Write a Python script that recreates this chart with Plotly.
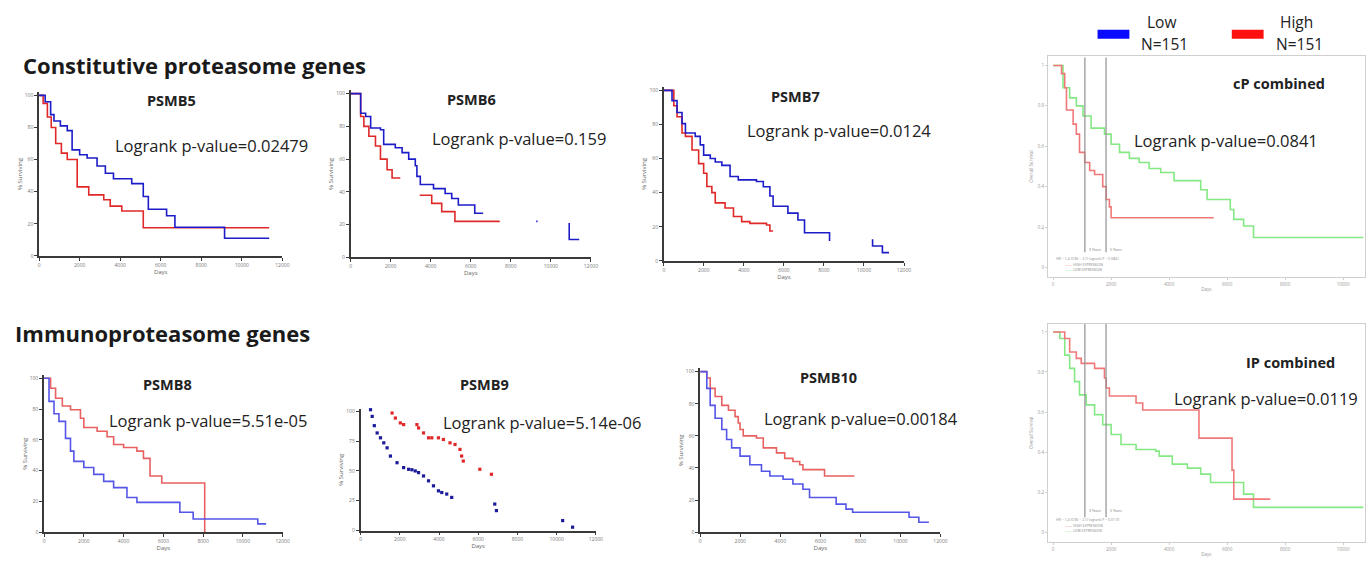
import plotly.graph_objects as go

W, H = 1372, 564

# ---------------- DATA (days, % surviving) ----------------
psmb5_low_days = [0, 300, 570, 735, 1050, 1390, 1630, 2000, 2370, 2860, 3270, 3670, 4570, 5140, 5390, 6290, 6700, 9150, 11350]
psmb5_low_surv = [100, 96, 88, 84, 81, 78, 66, 63, 61, 56, 51.5, 48, 45, 37, 29, 25, 17.8, 11, 11]
psmb5_high_days = [0, 200, 410, 600, 820, 1100, 1390, 1880, 2450, 3190, 3510, 4080, 5140, 11350]
psmb5_high_surv = [100, 95, 86.5, 80, 70, 64, 60, 43, 38, 35, 31, 28, 17.5, 17.5]

psmb6_low_days = [0, 250, 500, 750, 1000, 1490, 1650, 2230, 2570, 2900, 3230, 3310, 3480, 4140, 4720, 5050, 5380, 6200, 6620, None, 9270, 9340, None, 10920, 10920, 11420]
psmb6_low_surv = [100, 100, 88, 86, 79, 78, 69, 67, 64, 60, 56, 49.5, 44.5, 42, 39, 36, 32, 27, 27, None, 22, 22, None, 21, 11, 11]
psmb6_high_days = [0, 250, 500, 660, 910, 1240, 1490, 1820, 2070, 2480, None, 3450, 4050, 4550, 5210, 7450]
psmb6_high_surv = [100, 100, 86, 80, 74, 68, 60, 53.5, 48.5, 48.5, None, 38, 33, 28, 22, 22]

psmb7_low_days = [0, 410, 660, 910, 1080, 1570, 1820, 1990, 2320, 2570, 2900, 3310, 3720, 4630, 4970, 5300, 5460, 6200, 6700, 7030, 8280, None, 10430, 10430, 10920, 10920, 11250]
psmb7_low_surv = [100, 94, 87, 80.5, 75, 73, 68, 62, 60, 58, 56, 49.5, 47.5, 46.5, 43.5, 38, 32, 28, 24, 16.5, 11.6, None, 12.6, 8.7, 8.7, 4.8, 4.8]
psmb7_high_days = [0, 500, 660, 910, 1080, 1410, 1740, 1990, 2150, 2400, 2570, 3060, 3480, 3890, 4300, 5130, 5300, 5460]
psmb7_high_surv = [100, 91, 84.5, 75, 73, 65, 57, 51.4, 43.6, 40, 34, 31, 26, 23, 22, 21, 17.5, 17.5]

psmb8_low_days = [0, 170, 250, 500, 750, 1080, 1330, 1500, 2000, 2500, 3000, 3500, 4170, 4670, 6830, 7500, 10750, 11170]
psmb8_low_surv = [100, 100, 85, 77, 72, 61, 52.7, 46, 42, 37.6, 33, 29, 22.6, 19.4, 13, 8.6, 5.4, 5.4]
psmb8_high_days = [0, 170, 330, 580, 920, 1330, 1830, 2000, 2670, 3170, 3500, 4000, 4670, 5000, 5330, 5920, 8080, 8080]
psmb8_high_surv = [100, 100, 93.5, 87, 82, 79.6, 74, 68, 65.6, 62, 57, 55, 52.7, 48, 36.5, 32, 32, 0]

psmb9_low_days = [507, 592, 700, 845, 1014, 1183, 1352, 1521, 1859, 2197, 2451, 2620, 2789, 2958, 3211, 3465, 3718, 3972, 4141, 4394, 4648, 6845, 6930, 10309, 10816]
psmb9_low_surv = [101.4, 95.8, 88, 81.9, 77.8, 73.6, 69.4, 62.5, 56.9, 52.8, 51.4, 51, 50, 48.6, 45.8, 41.7, 37.5, 33.3, 31.9, 30.6, 27.8, 22.2, 16.7, 8.3, 2.8]
psmb9_high_days = [1014, 1268, 1437, 1606, 1775, 2028, 2197, 2873, 2958, 3211, 3465, 3634, 3972, 4225, 4563, 4817, 5070, 5155, 5239, 6084, 6676]
psmb9_high_surv = [108.3, 104.2, 102.8, 98.6, 94.4, 90.3, 88.9, 88.9, 86.1, 81.9, 77.8, 77.8, 77.8, 76.4, 73.6, 72.2, 68.1, 62.5, 58.3, 51.4, 47.2]

psmb10_low_days = [0, 200, 330, 500, 745, 1080, 1320, 1570, 1990, 2480, 3060, 3480, 4140, 4630, 5130, 5460, 6790, 7280, 7610, 10430, 10920, 11420]
psmb10_low_surv = [100, 100, 89.6, 79, 71, 64, 57.7, 52.5, 47.4, 42, 38, 35, 33, 30, 26.8, 21.6, 17.5, 14.4, 12.4, 9.3, 6.2, 6.2]
psmb10_high_days = [0, 200, 330, 500, 745, 1080, 1410, 1740, 1900, 1990, 2150, 2810, 3150, 3810, 4220, 4630, 4970, 5130, 6210, 7700]
psmb10_high_surv = [100, 100, 96, 89.6, 84.5, 79, 76, 72, 68, 64, 60, 58.7, 52.5, 49.4, 46, 44, 42, 39, 35, 35]

# combined (fraction surviving)
cp_high_days = [0, 230, 290, 400, 460, 690, 800, 910, 1090, 1260, 1430, 1710, 1830, 1940, 2000, 5540]
cp_high_surv = [1, 1, 0.96, 0.89, 0.78, 0.71, 0.66, 0.57, 0.52, 0.48, 0.46, 0.40, 0.336, 0.30, 0.246, 0.246]
cp_low_days = [0, 170, 340, 570, 800, 1030, 1310, 1770, 2000, 2290, 2630, 2970, 3310, 3710, 4170, 5090, 5310, 6110, 6230, 6570, 6910, 10700]
cp_low_surv = [1, 1, 0.89, 0.84, 0.80, 0.75, 0.69, 0.66, 0.61, 0.57, 0.54, 0.52, 0.49, 0.47, 0.43, 0.385, 0.336, 0.287, 0.238, 0.205, 0.148, 0.148]

ip_high_days = [0, 230, 400, 570, 800, 970, 1430, 1770, 1830, 1940, 2860, 3090, 5030, 6170, 6230, 7490]
ip_high_surv = [1, 1, 0.967, 0.90, 0.868, 0.843, 0.818, 0.77, 0.72, 0.68, 0.645, 0.61, 0.47, 0.31, 0.165, 0.165]
ip_low_days = [0, 170, 230, 400, 570, 740, 910, 1140, 1430, 1710, 2000, 2340, 2860, 3540, 3660, 4110, 4630, 5090, 5430, 6570, 6910, 10700]
ip_low_surv = [1, 1, 0.967, 0.884, 0.818, 0.752, 0.686, 0.636, 0.587, 0.537, 0.488, 0.438, 0.413, 0.405, 0.38, 0.34, 0.32, 0.29, 0.248, 0.19, 0.124, 0.124]

panel_titles = ["PSMB5", "PSMB6", "PSMB7", "PSMB8", "PSMB9", "PSMB10", "cP combined", "IP combined"]
pvalues = ["0.02479", "0.159", "0.0124", "5.51e-05", "5.14e-06", "0.00184", "0.0841", "0.0119"]
group_labels = ["Low", "High"]
group_n = [151, 151]
year_marks = [3, 5]
gp_xticks = [0, 2000, 4000, 6000, 8000, 10000, 12000]
comb_xticks = [0, 2000, 4000, 6000, 8000, 10000]
comb_yticks = [0, 0.2, 0.4, 0.6, 0.8, 1]

# ---------------- FIGURE ----------------
fig = go.Figure()
layout_axes = {}
annotations = []
shapes = []

FONT = "Open Sans"
BLUE_D = "#1c1cc8"
RED_D = "#e02828"
BLUE_L = "#5555e8"
RED_L = "#e86060"
RED_C = "#f07878"
GREEN_C = "#84e884"


def px2fx(px):
    return px / W


def py2fy(py):
    return 1 - py / H


def ann(text, x, y, size, bold=False, xanchor="center", color="#222", textangle=0, family=FONT):
    annotations.append(dict(
        text=f"<b>{text}</b>" if bold else text, x=px2fx(x), y=py2fy(y),
        xref="paper", yref="paper", xanchor=xanchor, yanchor="middle",
        showarrow=False, textangle=textangle,
        font=dict(family=family, size=size, color=color)))


def gp_panel(i, x0, x12k, y100, y0, yticks, ymax=102):
    ppp = (y0 - y100) / 100.0
    left, right = x0, x12k
    bottom, top = y0, y0 - ymax * ppp
    sfx = "" if i == 1 else str(i)
    common = dict(showline=True, linecolor="#3a3a3a", linewidth=1.6, ticks="outside",
                  ticklen=3, tickwidth=1.2, tickcolor="#3a3a3a", showgrid=False,
                  zeroline=False, tickfont=dict(size=5, color="#777", family=FONT))
    layout_axes["xaxis" + sfx] = dict(domain=[px2fx(left), px2fx(right)], range=[0, 12000],
                                      tickvals=gp_xticks, ticktext=[str(v) for v in gp_xticks],
                                      anchor="y" + sfx,
                                      title=dict(text="Days", font=dict(size=6, color="#666"), standoff=1),
                                      **common)
    layout_axes["yaxis" + sfx] = dict(domain=[py2fy(bottom), py2fy(top)], range=[0, ymax],
                                      tickvals=yticks, ticktext=[str(v) for v in yticks], anchor="x" + sfx,
                                      title=dict(text="% Surviving", font=dict(size=6, color="#666"), standoff=2),
                                      **common)
    return "x" + sfx, "y" + sfx


def comb_panel(i, x0, y1, y0, box_top, box_bot):
    ppd = 58.33 / 2000.0
    ppu = (y0 - y1)
    xl = (1053 - x0) / ppd
    xr = (W - x0) / ppd
    yt = (y0 - box_top) / ppu
    yb = (y0 - box_bot) / ppu
    sfx = str(i)
    common = dict(showline=True, mirror=True, linecolor="#cfcfcf", linewidth=1, ticks="outside",
                  ticklen=2, tickcolor="#cfcfcf", showgrid=False, zeroline=False,
                  tickfont=dict(size=4.5, color="#999", family=FONT))
    layout_axes["xaxis" + sfx] = dict(domain=[px2fx(1053), 1.0], range=[xl, xr], tickvals=comb_xticks,
                                      ticktext=[str(v) for v in comb_xticks], anchor="y" + sfx,
                                      title=dict(text="Days", font=dict(size=4.5, color="#999"), standoff=2),
                                      **common)
    layout_axes["yaxis" + sfx] = dict(domain=[py2fy(box_bot), py2fy(box_top)], range=[yb, yt],
                                      tickvals=comb_yticks, ticktext=[f"{v:g}" for v in comb_yticks],
                                      anchor="x" + sfx,
                                      title=dict(text="Overall Survival", font=dict(size=4.5, color="#999"), standoff=4),
                                      **common)
    return "x" + sfx, "y" + sfx


def km(xa, ya, days, surv, color, width=1.6):
    fig.add_trace(go.Scatter(x=days, y=surv, mode="lines", xaxis=xa, yaxis=ya,
                             line=dict(shape="hv", color=color, width=width),
                             connectgaps=False, hoverinfo="skip"))


def dots(xa, ya, days, surv, color):
    fig.add_trace(go.Scatter(x=days, y=surv, mode="markers", xaxis=xa, yaxis=ya, cliponaxis=False,
                             marker=dict(symbol="square", size=3.2, color=color, line=dict(width=0)),
                             hoverinfo="skip"))


ticks20 = [0, 20, 40, 60, 80, 100]

# Row 1
xa, ya = gp_panel(1, 38.3, 283, 95, 256.7, ticks20)
km(xa, ya, psmb5_high_days, psmb5_high_surv, RED_D)
km(xa, ya, psmb5_low_days, psmb5_low_surv, BLUE_D)
xa, ya = gp_panel(2, 351.7, 593.3, 93.3, 258.3, ticks20)
km(xa, ya, psmb6_high_days, psmb6_high_surv, RED_D)
km(xa, ya, psmb6_low_days, psmb6_low_surv, BLUE_D)
xa, ya = gp_panel(3, 666.7, 908.3, 90, 261.7, ticks20)
km(xa, ya, psmb7_high_days, psmb7_high_surv, RED_D)
km(xa, ya, psmb7_low_days, psmb7_low_surv, BLUE_D)
# Row 2
xa, ya = gp_panel(4, 43.3, 283.3, 380, 535, ticks20)
km(xa, ya, psmb8_high_days, psmb8_high_surv, RED_L)
km(xa, ya, psmb8_low_days, psmb8_low_surv, BLUE_L)
xa, ya = gp_panel(5, 361.7, 598.3, 413.3, 533.3, [0, 25, 50, 75, 100])
dots(xa, ya, psmb9_high_days, psmb9_high_surv, RED_D)
dots(xa, ya, psmb9_low_days, psmb9_low_surv, "#1a1a9a")
xa, ya = gp_panel(6, 703.3, 945, 373.3, 535, ticks20)
km(xa, ya, psmb10_high_days, psmb10_high_surv, RED_L)
km(xa, ya, psmb10_low_days, psmb10_low_surv, BLUE_L)

# Combined panels
for idx, (x0, y1, y0, bt, bb, hd, hs, ld, ls, ylab) in enumerate([
        (1058.3, 65, 268.3, 55, 278.3, cp_high_days, cp_high_surv, cp_low_days, cp_low_surv, 250),
        (1058.3, 333.3, 535, 325, 545, ip_high_days, ip_high_surv, ip_low_days, ip_low_surv, 513)]):
    xa, ya = comb_panel(7 + idx, x0, y1, y0, bt, bb)
    for yr in year_marks:
        shapes.append(dict(type="line", xref=xa, yref=ya, x0=yr * 365, x1=yr * 365, y0=0.075, y1=1.04,
                           line=dict(color="#909090", width=1.2)))
        annotations.append(dict(text=f"{yr} Years", x=yr * 365 + 60, y=(y0 - ylab) / (y0 - y1),
                                xref=xa, yref=ya, xanchor="left", showarrow=False,
                                font=dict(size=3.5, color="#777", family=FONT)))
    km(xa, ya, ld, ls, GREEN_C)
    km(xa, ya, hd, hs, RED_C)
    # tiny inner legend
    base = ylab + 9
    ann("HR = 1.4 (0.96 − 2.1) logrank P = " + pvalues[6 + idx], 1059, base, 3.5, xanchor="left", color="#888")
    ann("<span style='color:%s'>——</span> HIGH EXPRESSION" % RED_C, 1068, base + 6, 3.5, xanchor="left", color="#888")
    ann("<span style='color:%s'>——</span> LOW EXPRESSION" % GREEN_C, 1068, base + 11, 3.5, xanchor="left", color="#888")

# ---------------- TEXT ----------------
ann("Constitutive proteasome genes", 20, 64, 22, bold=True, xanchor="left", color="#1a1a1a")
ann("Immunoproteasome genes", 12, 334, 22, bold=True, xanchor="left", color="#1a1a1a")

title_pos = [(172, 100), (473, 99), (799, 96), (167, 386), (486, 386), (832, 379), (1285, 83.5), (1297, 364)]
lr_pos = [(113, 146, "left"), (432, 138.5, "left"), (748, 130, "left"), (107, 422, "left"),
          (443, 425, "left"), (765, 420, "left"), (1138, 140, "left"), (1178, 400, "left")]
for t, (tx, ty), (lx, ly, la), p in zip(panel_titles, title_pos, lr_pos, pvalues):
    ann(t, tx, ty, 14.5, bold=True, color="#222")
    ann("Logrank p-value=" + p, lx, ly, 16.5, xanchor=la, color="#222")

# Top legend
for (lab, n, rx, tx, col) in [(group_labels[0], group_n[0], 1103, 1170, "#0a0aff"),
                              (group_labels[1], group_n[1], 1238, 1306, "#ff1010")]:
    shapes.append(dict(type="rect", xref="paper", yref="paper", x0=px2fx(rx), x1=px2fx(rx + 32),
                       y0=py2fy(38), y1=py2fy(29), fillcolor=col, line=dict(width=0)))
    ann(lab, tx - 3, 21, 15.5, color="#222")
    ann(f"N={n}", tx, 43.5, 15.5, color="#222")

fig.update_layout(width=W, height=H, margin=dict(l=0, r=0, t=0, b=0),
                  paper_bgcolor="white", plot_bgcolor="white", showlegend=False,
                  annotations=annotations, shapes=shapes, font=dict(family=FONT), **layout_axes)

fig.write_html("out.html")
